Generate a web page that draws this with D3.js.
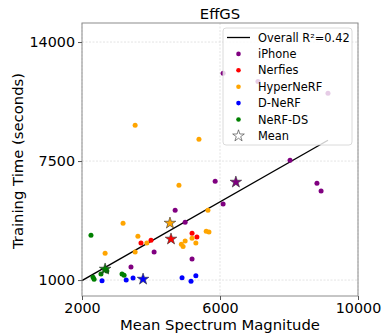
<!DOCTYPE html>
<html>
<head>
<meta charset="utf-8">
<script src="https://cdn.jsdelivr.net/npm/d3@7"></script>
<style>
    body { margin: 0; background: #fff; }
    text { font-family: "DejaVu Sans", sans-serif; fill: #000; }
</style>
</head>
<body>
<div class="chart"></div>
<script>
// dataset names and colours
var datasets = ["iPhone", "Nerfies", "HyperNeRF", "D-NeRF", "NeRF-DS"];
var colors = ["purple", "red", "orange", "blue", "green"];

// per scene points: [mean spectrum magnitude, training time]
var iphonePts = [[6090, 12290], [7100, 11850], [9130, 11200], [5860, 6400], [6090, 5150],
    [8030, 7550], [8810, 6290], [8930, 5860], [4700, 4820], [4990, 4160], [4090, 2530],
    [3420, 1710], [5190, 2150]];
var nerfiesPts = [[3710, 3020], [4000, 3180], [5190, 3560], [5330, 3350]];
var hypernerfPts = [[3540, 9460], [5390, 8690], [4810, 6180], [3190, 4110], [5650, 4820],
    [3620, 3400], [3880, 3020], [2670, 2470], [3540, 2530], [5600, 3670], [5680, 3620],
    [5190, 3290], [4990, 3130], [4880, 2960], [4930, 2830], [5300, 3020]];
var dnerfPts = [[2580, 960], [3280, 1000], [3480, 1110], [4900, 1120], [5160, 930], [5300, 1230]];
var nerfdsPts = [[2260, 3450], [2720, 1490], [2550, 1330], [3160, 1330], [3220, 1270],
    [2320, 1160], [2350, 1050]];

// dataset means (stars)
var meanPts = [[6460, 6350], [4580, 3240], [4550, 4110], [3770, 1050], [2670, 1600]];

// overall fit
var fitSlope = 1.0746;
var fitIntercept = -1176;
var fitX = [2000, 9130];
var fitLabel = "Overall R\u00b2=0.42";

// axes
var xDomain = [2000, 10000];
var yDomain = [130, 15040];
var xTicks = [2000, 6000, 10000];
var yTicks = [1000, 7500, 14000];

var allPts = [iphonePts, nerfiesPts, hypernerfPts, dnerfPts, nerfdsPts];

//////// canvas
var width = 383;
var height = 335;
var plotLeft = 82, plotRight = 358, plotTop = 23, plotBottom = 296;

var svg = d3.select(".chart")
    .append("svg")
    .attr("width", width)
    .attr("height", height);

var x = d3.scaleLinear().domain(xDomain).range([plotLeft, plotRight]);
var y = d3.scaleLinear().domain(yDomain).range([plotBottom, plotTop]);

svg.append("defs")
    .append("clipPath")
    .attr("id", "plot-clip")
    .append("rect")
    .attr("x", plotLeft)
    .attr("y", plotTop)
    .attr("width", plotRight - plotLeft)
    .attr("height", plotBottom - plotTop);

//////// grid
var grid = svg.append("g");
grid.selectAll(".gx")
    .data(xTicks)
    .enter()
    .append("line")
    .attr("x1", function(d) { return x(d); })
    .attr("x2", function(d) { return x(d); })
    .attr("y1", plotTop)
    .attr("y2", plotBottom)
    .attr("stroke", "#dcdcdc")
    .attr("stroke-width", 0.8)
    .attr("stroke-dasharray", "2,1.5");
grid.selectAll(".gy")
    .data(yTicks)
    .enter()
    .append("line")
    .attr("x1", plotLeft)
    .attr("x2", plotRight)
    .attr("y1", function(d) { return y(d); })
    .attr("y2", function(d) { return y(d); })
    .attr("stroke", "#dcdcdc")
    .attr("stroke-width", 0.8)
    .attr("stroke-dasharray", "2,1.5");

//////// points
var plot = svg.append("g").attr("clip-path", "url(#plot-clip)");

plot.append("line")
    .attr("x1", x(fitX[0]))
    .attr("y1", y(fitSlope * fitX[0] + fitIntercept))
    .attr("x2", x(fitX[1]))
    .attr("y2", y(fitSlope * fitX[1] + fitIntercept))
    .attr("stroke", "#000")
    .attr("stroke-width", 1.3);

var star = d3.symbol().type(d3.symbolStar).size(42);

allPts.forEach(function(pts, i) {
    plot.selectAll(".p" + i)
        .data(pts)
        .enter()
        .append("circle")
        .attr("cx", function(d) { return x(d[0]); })
        .attr("cy", function(d) { return y(d[1]); })
        .attr("r", 2.5)
        .attr("fill", colors[i]);

    plot.append("path")
        .attr("d", star)
        .attr("transform", "translate(" + x(meanPts[i][0]) + "," + y(meanPts[i][1]) + ")")
        .attr("fill", colors[i])
        .attr("stroke", "#333")
        .attr("stroke-width", 0.6);
});

//////// frame and axes
svg.append("rect")
    .attr("x", plotLeft)
    .attr("y", plotTop)
    .attr("width", plotRight - plotLeft)
    .attr("height", plotBottom - plotTop)
    .attr("fill", "none")
    .attr("stroke", "#8c8c8c")
    .attr("stroke-width", 1);

var xAxis = svg.append("g")
    .attr("transform", "translate(0," + plotBottom + ")")
    .call(d3.axisBottom(x).tickValues(xTicks).tickSize(4).tickPadding(3).tickFormat(d3.format("d")));
var yAxis = svg.append("g")
    .attr("transform", "translate(" + plotLeft + ",0)")
    .call(d3.axisLeft(y).tickValues(yTicks).tickSize(4).tickPadding(3).tickFormat(d3.format("d")));

[xAxis, yAxis].forEach(function(a) {
    a.select(".domain").remove();
    a.selectAll(".tick line").attr("stroke", "#555");
    a.selectAll("text")
        .attr("font-family", "DejaVu Sans")
        .attr("font-size", "14.3px")
        .attr("fill", "#000");
});

//////// labels
svg.append("text")
    .attr("x", (plotLeft + plotRight) / 2)
    .attr("y", 19)
    .attr("text-anchor", "middle")
    .attr("font-size", "14.8px")
    .text("EffGS");

svg.append("text")
    .attr("x", (plotLeft + plotRight) / 2)
    .attr("y", 330)
    .attr("text-anchor", "middle")
    .attr("font-size", "14.8px")
    .text("Mean Spectrum Magnitude");

svg.append("text")
    .attr("transform", "translate(23," + 161 + ") rotate(-90)")
    .attr("text-anchor", "middle")
    .attr("font-size", "14.8px")
    .text("Training Time (seconds)");

//////// legend
var legend = svg.append("g");
legend.append("rect")
    .attr("x", 223)
    .attr("y", 28)
    .attr("width", 129)
    .attr("height", 117)
    .attr("rx", 3)
    .attr("fill", "#fff")
    .attr("fill-opacity", 0.8)
    .attr("stroke", "#d0d0d0")
    .attr("stroke-width", 0.8);

var rowY = 37.5;
var rowGap = 16.4;

legend.append("line")
    .attr("x1", 227)
    .attr("x2", 250)
    .attr("y1", rowY)
    .attr("y2", rowY)
    .attr("stroke", "#000")
    .attr("stroke-width", 1.3);
legend.append("text")
    .attr("x", 258)
    .attr("y", rowY + 4)
    .attr("font-size", "11.4px")
    .text(fitLabel);

datasets.forEach(function(name, i) {
    var ry = rowY + rowGap * (i + 1);
    legend.append("circle")
        .attr("cx", 238.5)
        .attr("cy", ry)
        .attr("r", 2.3)
        .attr("fill", colors[i]);
    legend.append("text")
        .attr("x", 258)
        .attr("y", ry + 4)
        .attr("font-size", "11.4px")
        .text(name);
});

var meanY = rowY + rowGap * 6;
legend.append("path")
    .attr("d", star)
    .attr("transform", "translate(238.5," + meanY + ")")
    .attr("fill", "#fff")
    .attr("stroke", "#333")
    .attr("stroke-width", 0.6);
legend.append("text")
    .attr("x", 258)
    .attr("y", meanY + 4)
    .attr("font-size", "11.4px")
    .text("Mean");
</script>
</body>
</html>
